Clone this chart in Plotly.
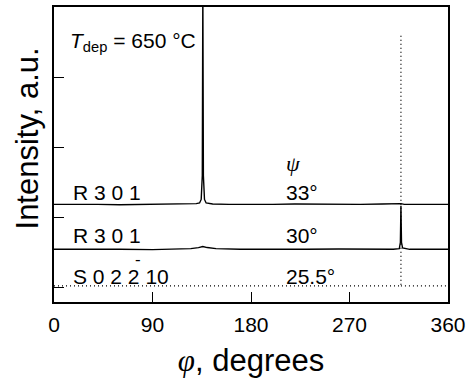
import plotly.graph_objects as go

# ---- data ----
phi_33 = [0, 20, 40, 60, 80, 100, 120, 130, 133, 134.5, 135.5, 136, 136.5, 137.5, 139,
          145, 160, 180, 200, 220, 240, 260, 280, 300, 317, 320, 340, 360]
int_33 = [2.19, 2.195, 2.19, 2.185, 2.19, 2.195, 2.19, 2.2, 2.21, 2.26, 2.6, 5.3, 2.6, 2.26, 2.21,
          2.195, 2.19, 2.185, 2.19, 2.195, 2.19, 2.185, 2.19, 2.195, 2.2, 2.19, 2.19, 2.19]

phi_30 = [0, 30, 60, 90, 110, 125, 132, 136, 140, 148, 170, 200, 230, 260, 290, 310,
          315.5, 316.5, 317, 317.5, 318.5, 325, 345, 360]
int_30 = [1.55, 1.555, 1.55, 1.545, 1.55, 1.56, 1.575, 1.59, 1.575, 1.56, 1.55, 1.545, 1.55, 1.555, 1.55, 1.55,
          1.56, 1.65, 2.17, 1.65, 1.57, 1.55, 1.55, 1.55]

# substrate scan: baseline, then the (very strong, narrow) reflection at 317 deg
phi_255 = [0, 317, 317, None, 317, 360]
int_255 = [1.03, 1.03, 4.63, None, 1.03, 1.03]

x_ticks = [0, 90, 180, 270, 360]
y_ticks = [1, 2, 3, 4]

row_labels = ["R 3 0 1", "R 3 0 1", "S 0 2 2 10"]
psi_labels = ["33°", "30°", "25.5°"]
label_levels = [2.36, 1.74, 1.16]

fig = go.Figure()
line = dict(color="black", width=1.4)
fig.add_trace(go.Scatter(x=phi_33, y=int_33, mode="lines", line=line, showlegend=False))
fig.add_trace(go.Scatter(x=phi_30, y=int_30, mode="lines", line=line, showlegend=False))
fig.add_trace(go.Scatter(x=phi_255, y=int_255, mode="lines", connectgaps=False,
                         line=dict(color="black", width=1.3, dash="1px,3px"), showlegend=False))

font_txt = dict(family="Arial, Liberation Sans, sans-serif", size=21, color="black")
ann = []
for lab, lvl in zip(row_labels, label_levels):
    ann.append(dict(x=15.5, y=lvl, text=lab, showarrow=False, xanchor="left", yanchor="middle", font=font_txt))
for lab, lvl in zip(psi_labels, label_levels):
    ann.append(dict(x=210, y=lvl, text=lab, showarrow=False, xanchor="left", yanchor="middle", font=font_txt))
# bar over the second "2" of the substrate reflection index
ann.append(dict(x=77, y=1.40, text="-", showarrow=False, xanchor="center", yanchor="middle",
                font=dict(family="Arial, Liberation Sans, sans-serif", size=17, color="black")))
ann.append(dict(x=218.5, y=2.77, text="<i>ψ</i>", showarrow=False, xanchor="center", yanchor="middle",
                font=dict(family="Liberation Serif, serif", size=22, color="black")))
ann.append(dict(x=12.8, y=4.5, text="<i>T</i><sub>dep</sub> = 650 °C", showarrow=False,
                xanchor="left", yanchor="middle", font=font_txt))
# y-axis title (sits above the plot's vertical centre in the original)
ann.append(dict(x=-0.068, y=0.555, xref="paper", yref="paper", text="Intensity, a.u.",
                textangle=-90, showarrow=False, xanchor="center", yanchor="middle",
                font=dict(family="Arial, Liberation Sans, sans-serif", size=31, color="black")))

fig.update_layout(
    width=469, height=378,
    margin=dict(l=54, r=21, t=7, b=76),
    paper_bgcolor="white", plot_bgcolor="white",
    font=font_txt,
    annotations=ann,
    xaxis=dict(range=[0, 360], tickvals=x_ticks, ticks="inside", ticklen=10, tickwidth=1.3,
               tickcolor="black", showline=True, mirror=True, linecolor="black", linewidth=1.5,
               showgrid=False, zeroline=False, tickfont=dict(size=21), automargin=False,
               ticklabelstandoff=3,
               title=dict(text="<span style='font-family:Liberation Serif'><i>φ</i></span>, degrees",
                          font=dict(size=31), standoff=18)),
    yaxis=dict(range=[0.8, 5.0], tickvals=y_ticks, ticks="inside", ticklen=10, tickwidth=1.3,
               tickcolor="black", showline=True, mirror=True, linecolor="black", linewidth=1.5,
               showgrid=False, zeroline=False, showticklabels=False, automargin=False),
)

fig.write_html("out.html", config={"displayModeBar": False},
               post_script="document.body.style.margin='0';")
